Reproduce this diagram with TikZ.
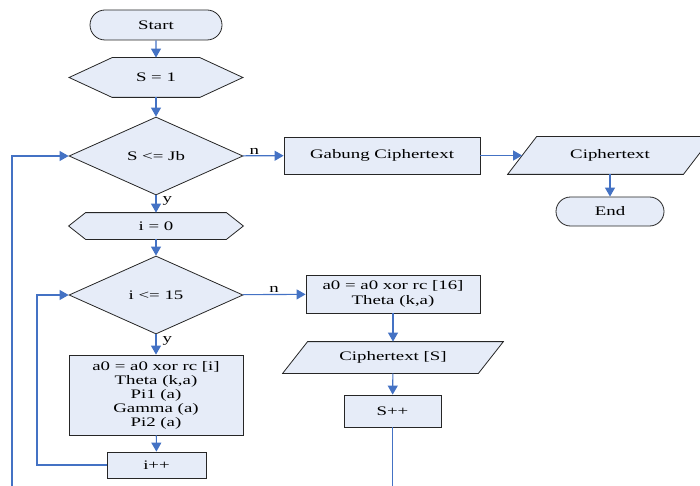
\documentclass[tikz,border=0pt]{standalone}
\usepackage{fontspec}
\setmainfont{Liberation Serif}[FakeStretch=1.45]
\usetikzlibrary{shapes.geometric,shapes.misc,arrows.meta,backgrounds}
\definecolor{flowblue}{RGB}{68,114,196}
\definecolor{flowfill}{RGB}{230,236,248}
\tikzset{
  box/.style={draw=black!85, fill=flowfill, line width=0.8pt, inner sep=0pt,
    align=center, font=\fontsize{13}{14}\selectfont},
  term/.style={box, rounded rectangle},
  dec/.style={box, diamond, minimum width=174pt, minimum height=78pt},
  bare/.style={box, draw=none, fill=none},
  outline/.style={draw=black!85, fill=flowfill, line width=0.8pt, line join=miter},
  flow/.style={draw=flowblue, line width=1.1pt, -{Triangle[width=10pt,length=9pt]}},
  line/.style={draw=flowblue, line width=1.1pt},
  lbl/.style={font=\fontsize{13}{14}\selectfont, inner sep=1pt},
}
\begin{document}
\begin{tikzpicture}[x=1pt, y=-1pt]
    \useasboundingbox (0, 0) rectangle (700, 486);
    % left column
    \node [term, minimum width=132pt, minimum height=30pt] (start) at (156, 25) {Start};
    \node [bare, minimum width=173pt, minimum height=39pt] (s1) at (156, 77.5) {S = 1};
    \node [dec] (cekS) at (156, 156) {S <= Jb};
    \node [bare, minimum width=174pt, minimum height=26pt] (i0) at (156, 226) {i = 0};
    \node [dec] (cekI) at (156, 295) {i <= 15};
    \node [box, minimum width=174pt, minimum height=80pt] (ronde) at (156, 395)
      {a0 = a0 xor rc [i]\\ Theta (k,a)\\ Pi1 (a)\\ Gamma (a)\\ Pi2 (a)};
    \node [box, minimum width=99pt, minimum height=26pt] (ipp) at (156.5, 465) {i++};
    % middle column
    \node [box, minimum width=174pt, minimum height=38pt] (akhir) at (393, 294)
      {a0 = a0 xor rc [16]\\[1pt] Theta (k,a)};
    \node [bare, minimum width=195pt, minimum height=31pt] (cipS) at (393, 357.5) {Ciphertext [S]};
    \node [box, minimum width=97pt, minimum height=32pt] (spp) at (392.5, 411) {S++};
    % right
    \node [box, minimum width=196pt, minimum height=37pt] (gabung) at (382, 155.5) {Gabung Ciphertext};
    \node [bare, minimum width=175pt, minimum height=37pt] (cip) at (610, 155.5) {Ciphertext};
    \node [term, minimum width=108pt, minimum height=29pt] (end) at (610, 211.5) {End};
    \coordinate (bawahS) at (392.5, 486);
    \coordinate (bawahL) at (12, 486);

    % hexagons and parallelograms behind their texts
    \begin{scope}[on background layer]
      \draw [outline] (s1.west) -- ([xshift=43pt]s1.north west) -- ([xshift=-43pt]s1.north east)
        -- (s1.east) -- ([xshift=-43pt]s1.south east) -- ([xshift=43pt]s1.south west) -- cycle;
      \draw [outline] (i0.west) -- ([xshift=17pt]i0.north west) -- ([xshift=-17pt]i0.north east)
        -- (i0.east) -- ([xshift=-17pt]i0.south east) -- ([xshift=17pt]i0.south west) -- cycle;
      \draw [outline] ([xshift=-14.5pt]cip.south west) -- ([xshift=14.5pt]cip.north west)
        -- ([xshift=14.5pt]cip.north east) -- ([xshift=-14.5pt]cip.south east) -- cycle;
      \draw [outline] ([xshift=-12.5pt]cipS.south west) -- ([xshift=12.5pt]cipS.north west)
        -- ([xshift=12.5pt]cipS.north east) -- ([xshift=-12.5pt]cipS.south east) -- cycle;
    \end{scope}

    \draw [flow] (start) -- (s1);
    \draw [flow] (s1) -- (cekS);
    \draw [flow] (cekS) -- node [lbl, pos=0.3, right, xshift=5pt] {y} (i0);
    \draw [flow] (cekS) -- node [lbl, pos=0, anchor=south west, xshift=5pt] {n} (gabung);
    \draw [flow] (gabung) -- (cip);
    \draw [flow] (cip) -- (end);
    \draw [flow] (i0) -- (cekI);
    \draw [flow] (cekI) -- node [lbl, pos=0.3, right, xshift=5pt] {y} (ronde);
    \draw [flow] (cekI) -- node [lbl, above] {n} (akhir);
    \draw [flow] (ronde) -- (ipp);
    \draw [flow] (akhir) -- (cipS);
    \draw [flow] (cipS) -- (spp);
    \draw [line] (spp) -- (bawahS);
    \draw [flow] (ipp.west) -- (37, 465) |- (cekI.west);
    \draw [flow] (bawahL) |- (cekS.west);
  \end{tikzpicture}
\end{document}
